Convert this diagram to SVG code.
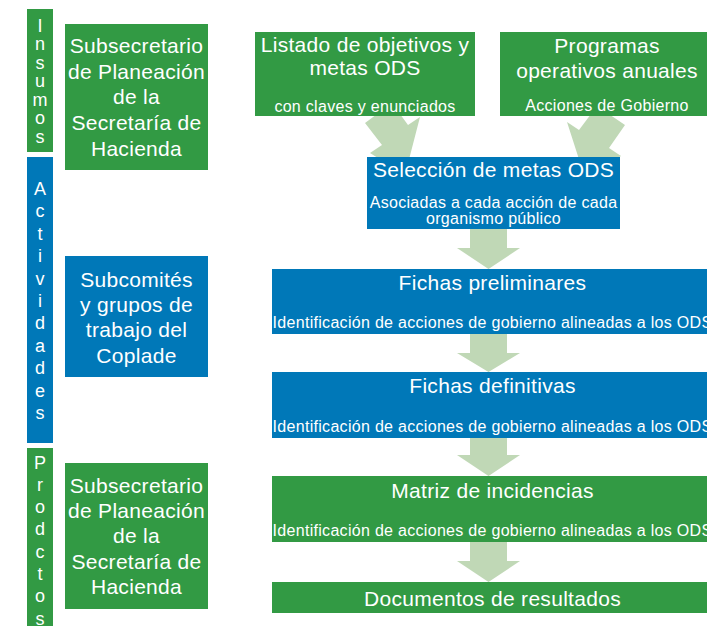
<svg xmlns="http://www.w3.org/2000/svg" width="707" height="626" viewBox="0 0 707 626">
<style>
.g{fill:#329a44}
.b{fill:#0078b8}
.arr{fill:#c0d8b6}
text{font-family:"Liberation Sans",Arial,sans-serif;fill:#ffffff;text-anchor:middle}
.t{font-size:21px;letter-spacing:0.3px}
.s{font-size:16px;letter-spacing:0.3px}
.v{font-size:18px}
</style>
<rect width="707" height="626" fill="#ffffff"/>
<g id="connectors">
<polygon class="arr" points="392,103 365,123 382,145 370,153 405,175 420,117 408,125"/>
<polygon class="arr" points="597,106 625,125 609,148 621,156 585,178 567,122 579,130"/>
<polygon class="arr" points="470,228 507,228 507,248 520,248 488.5,269 457,248 470,248"/>
<polygon class="arr" points="470,333 507,333 507,353 520,353 488.5,372 457,353 470,353"/>
<polygon class="arr" points="470,437 507,437 507,455 520,455 488.5,476 457,455 470,455"/>
<polygon class="arr" points="470,541 507,541 507,561 520,561 488.5,582 457,561 470,561"/>
</g>
<g id="insumos-bar">
<rect class="g" x="27" y="9" width="26" height="143"/>
<text class="v" x="40" y="31.5">I</text>
<text class="v" x="40" y="50">n</text>
<text class="v" x="40" y="68.5">s</text>
<text class="v" x="40" y="87">u</text>
<text class="v" x="40" y="105.5">m</text>
<text class="v" x="40" y="124">o</text>
<text class="v" x="40" y="143">s</text>
</g>
<g id="actividades-bar">
<rect class="b" x="27" y="157" width="26" height="286"/>
<text class="v" x="40" y="195">A</text>
<text class="v" x="40" y="217.4">c</text>
<text class="v" x="40" y="239.8">t</text>
<text class="v" x="40" y="262.2">i</text>
<text class="v" x="40" y="284.6">v</text>
<text class="v" x="40" y="307">i</text>
<text class="v" x="40" y="329.4">d</text>
<text class="v" x="40" y="351.8">a</text>
<text class="v" x="40" y="374.2">d</text>
<text class="v" x="40" y="396.6">e</text>
<text class="v" x="40" y="419">s</text>
</g>
<g id="productos-bar">
<rect class="g" x="27" y="448" width="26" height="180"/>
<text class="v" x="40" y="468.5">P</text>
<text class="v" x="40" y="490.8">r</text>
<text class="v" x="40" y="513.1">o</text>
<text class="v" x="40" y="535.4">d</text>
<text class="v" x="40" y="557.7">c</text>
<text class="v" x="40" y="580">t</text>
<text class="v" x="40" y="602.3">o</text>
<text class="v" x="40" y="624.6">s</text>
</g>
<g id="subsecretario-1">
<rect class="g" x="65" y="24" width="143" height="146"/>
<text class="t" x="136.5" y="53.3">Subsecretario</text>
<text class="t" x="136.5" y="78.8">de Planeación</text>
<text class="t" x="136.5" y="104.3">de la</text>
<text class="t" x="136.5" y="129.8">Secretaría de</text>
<text class="t" x="136.5" y="155.5">Hacienda</text>
</g>
<g id="subcomites">
<rect class="b" x="65" y="256" width="143" height="121"/>
<text class="t" x="136.5" y="286.7">Subcomités</text>
<text class="t" x="136.5" y="312">y grupos de</text>
<text class="t" x="136.5" y="337.3">trabajo del</text>
<text class="t" x="136.5" y="362.6">Coplade</text>
</g>
<g id="subsecretario-2">
<rect class="g" x="65" y="463" width="143" height="146"/>
<text class="t" x="136.5" y="492.7">Subsecretario</text>
<text class="t" x="136.5" y="518">de Planeación</text>
<text class="t" x="136.5" y="543.3">de la</text>
<text class="t" x="136.5" y="568.6">Secretaría de</text>
<text class="t" x="136.5" y="594.3">Hacienda</text>
</g>
<g id="listado">
<rect class="g" x="255" y="32" width="220" height="84"/>
<text class="t" x="365" y="51.7">Listado de objetivos y</text>
<text class="t" x="365" y="74.5">metas ODS</text>
<text class="s" x="365" y="111.5">con claves y enunciados</text>
</g>
<g id="programas">
<rect class="g" x="500" y="32" width="214" height="84"/>
<text class="t" x="607" y="52.7">Programas</text>
<text class="t" x="607" y="78.3">operativos anuales</text>
<text class="s" x="607" y="110.7">Acciones de Gobierno</text>
</g>
<g id="seleccion">
<rect class="b" x="367" y="157" width="253" height="72"/>
<text class="t" x="493.5" y="176.7">Selección de metas ODS</text>
<text class="s" x="493.5" y="207.7">Asociadas a cada acción de cada</text>
<text class="s" x="493.5" y="224">organismo público</text>
</g>
<g id="fichas-preliminares">
<rect class="b" x="272" y="269" width="441" height="65"/>
<text class="t" x="492.5" y="290">Fichas preliminares</text>
<text class="s" x="492.5" y="328.3">Identificación de acciones de gobierno alineadas a los ODS</text>
</g>
<g id="fichas-definitivas">
<rect class="b" x="272" y="372" width="441" height="66"/>
<text class="t" x="492.5" y="393.3">Fichas definitivas</text>
<text class="s" x="492.5" y="431.7">Identificación de acciones de gobierno alineadas a los ODS</text>
</g>
<g id="matriz">
<rect class="g" x="272" y="476" width="441" height="66"/>
<text class="t" x="492.5" y="497.7">Matriz de incidencias</text>
<text class="s" x="492.5" y="536">Identificación de acciones de gobierno alineadas a los ODS</text>
</g>
<g id="documentos">
<rect class="g" x="272" y="582" width="441" height="31"/>
<text class="t" x="492.5" y="605.7">Documentos de resultados</text>
</g>
</svg>
